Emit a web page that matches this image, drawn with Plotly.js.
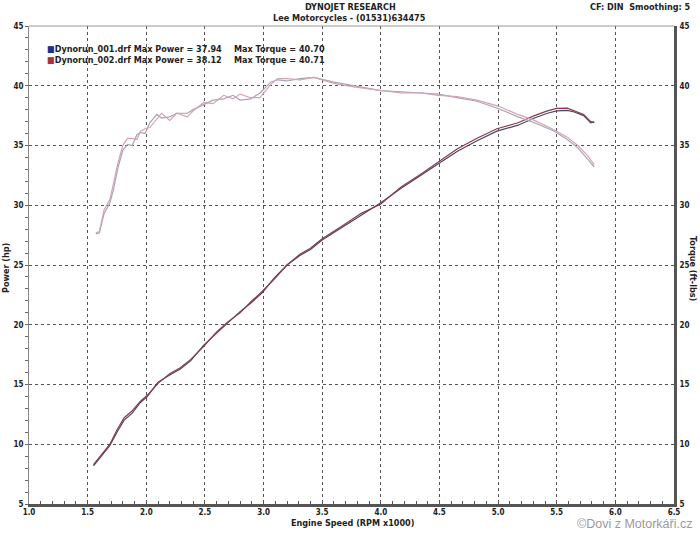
<!DOCTYPE html>
<html>
<head>
<meta charset="utf-8">
<script src="https://cdn.plot.ly/plotly-3.0.1.min.js"></script>
<style>html,body{margin:0;padding:0;background:#fff;}#chart{width:700px;height:537px;}</style>
</head>
<body>
<div id="chart"></div>
<script>
// ---- data ----
const runNames = ["Dynorun_001.drf", "Dynorun_002.drf"];
const maxPower = [37.94, 38.12];
const maxTorque = [40.70, 40.71];

const rpmTorque = [1.57,1.60,1.64,1.69,1.72,1.76,1.80,1.84,1.88,1.92,1.95,1.99,2.03,2.09,2.13,2.20,2.26,2.35,2.40,2.49,2.57,2.66,2.74,2.80,2.89,2.97,3.06,3.12,3.20,3.31,3.43,3.60,3.77,4.00,4.17,4.34,4.49,4.65,4.82,5.00,5.17,5.31,5.48,5.59,5.68,5.76,5.82];
const torque1 = [27.6,27.7,29.3,30.2,31.3,33.2,34.6,35.1,35.0,35.9,36.1,36.0,36.9,37.6,37.3,37.4,37.7,37.7,38.0,38.4,38.8,38.9,39.2,38.8,38.9,39.4,40.3,40.5,40.4,40.6,40.7,40.3,40.0,39.6,39.5,39.4,39.3,39.0,38.7,38.1,37.4,36.9,36.2,35.5,34.8,33.9,33.2];
const torque2 = [27.7,27.8,29.6,30.5,31.8,33.6,35.0,35.6,35.6,35.5,36.2,36.4,36.5,37.2,37.7,37.1,37.7,37.4,37.9,38.6,38.5,39.2,38.9,39.3,39.0,39.0,40.1,40.6,40.6,40.5,40.7,40.2,39.9,39.6,39.4,39.4,39.2,39.1,38.8,38.3,37.6,37.1,36.3,35.7,35.0,34.2,33.4];

const rpmPower = [1.55,1.61,1.69,1.75,1.81,1.88,1.95,2.01,2.10,2.20,2.29,2.38,2.49,2.60,2.69,2.80,2.89,2.99,3.09,3.20,3.31,3.40,3.50,3.66,3.83,4.00,4.17,4.34,4.50,4.65,4.82,4.99,5.17,5.31,5.42,5.50,5.59,5.65,5.73,5.79,5.82];
const power1 = [8.2,8.9,9.9,11.0,12.0,12.6,13.5,14.0,15.2,15.8,16.3,17.0,18.3,19.3,20.1,21.1,21.8,22.7,23.9,25.0,25.8,26.3,27.1,28.1,29.2,30.2,31.4,32.5,33.6,34.5,35.4,36.2,36.7,37.3,37.7,37.9,37.94,37.8,37.5,36.9,37.0];
const power2 = [8.3,9.0,10.0,11.2,12.2,12.8,13.6,14.1,15.1,15.9,16.4,17.1,18.2,19.4,20.2,21.0,21.9,22.8,23.8,25.0,25.9,26.4,27.2,28.2,29.3,30.1,31.5,32.6,33.7,34.7,35.6,36.4,36.9,37.5,37.9,38.1,38.12,37.9,37.6,37.0,36.9];

const xTicks = [1.0,1.5,2.0,2.5,3.0,3.5,4.0,4.5,5.0,5.5,6.0,6.5];
const yTicks = [5,10,15,20,25,30,35,40,45];

// ---- styling ----
const runColors = ["#1e2f8c", "#b0303a"];
const powerColors = ["#4b4660", "#8a3a4e"];
const torqueColors = ["#aaa2b6", "#d2a4b4"];
const F = "'DejaVu Sans Condensed', 'DejaVu Sans', sans-serif";

const traces = [
  {x: rpmTorque, y: torque1, yaxis: 'y2', mode: 'lines', line: {color: torqueColors[0], width: 1.2}, name: runNames[0] + ' torque'},
  {x: rpmTorque, y: torque2, yaxis: 'y2', mode: 'lines', line: {color: torqueColors[1], width: 1.2}, name: runNames[1] + ' torque'},
  {x: rpmPower, y: power1, mode: 'lines', line: {color: powerColors[0], width: 1.2}, name: runNames[0] + ' power'},
  {x: rpmPower, y: power2, mode: 'lines', line: {color: powerColors[1], width: 1.2}, name: runNames[1] + ' power'}
];

const tickFont = {family: F, size: 8, color: '#222', weight: 'bold'};
const boldFont = {family: F, size: 9, color: '#222', weight: 'bold'};

const W = 700, H = 537;
const m = {l: 29, r: 26, t: 26, b: 33};
const pw = W - m.l - m.r, ph = H - m.t - m.b;
const px = v => (v - m.l) / pw;
const py = v => 1 - (v - m.t) / ph;

const ann = [
  {text: 'DYNOJET RESEARCH', x: px(350), y: py(7), xanchor: 'center', yanchor: 'middle', font: boldFont},
  {text: 'Lee Motorcycles - (01531)634475', x: px(349), y: py(18), xanchor: 'center', yanchor: 'middle', font: boldFont},
  {text: 'CF: DIN  Smoothing: 5', x: px(693), y: py(7), xanchor: 'right', yanchor: 'middle', font: boldFont},
  {text: 'Engine Speed (RPM x1000)', x: px(352), y: py(523), xanchor: 'center', yanchor: 'middle', font: boldFont},
  {text: 'Power (hp)', x: px(6), y: py(268), xanchor: 'center', yanchor: 'middle', textangle: -90, font: boldFont},
  {text: 'Torque (ft-lbs)', x: px(693), y: py(268), xanchor: 'center', yanchor: 'middle', textangle: 90, font: boldFont},
  {text: '©Dovi z Motorkáři.cz', x: px(694), y: py(524), xanchor: 'right', yanchor: 'middle', font: {family: "'Liberation Sans', Arial, sans-serif", size: 12.5, color: '#9a9a9a'}}
];
runNames.forEach((n, i) => {
  ann.push({text: '<span style="color:' + runColors[i] + '">■</span>' + n + ' Max Power = ' + maxPower[i].toFixed(2),
    x: px(45), y: py(49 + i * 11), xanchor: 'left', yanchor: 'middle', font: boldFont});
  ann.push({text: 'Max Torque = ' + maxTorque[i].toFixed(2),
    x: px(232), y: py(49 + i * 11), xanchor: 'left', yanchor: 'middle', font: boldFont});
});
ann.forEach(a => { a.xref = 'paper'; a.yref = 'paper'; a.showarrow = false; });

const layout = {
  width: W, height: H,
  margin: m,
  paper_bgcolor: '#fff', plot_bgcolor: '#fff',
  showlegend: false,
  xaxis: {
    range: [1.0, 6.5], tickvals: xTicks, ticktext: xTicks.map(v => v.toFixed(1)),
    showgrid: true, gridcolor: '#555', griddash: 'dot', gridwidth: 1,
    zeroline: false, showline: true, linecolor: '#555', linewidth: 3,
    ticks: 'inside', ticklen: 4, tickcolor: '#555', tickwidth: 1,
    ticklabelstandoff: -2,
    minor: {dtick: 0.1, ticks: 'inside', ticklen: 3, tickcolor: '#555', showgrid: false},
    tickfont: tickFont, fixedrange: true
  },
  yaxis: {
    range: [5, 45], tickvals: yTicks, ticktext: yTicks.map(String),
    showgrid: true, gridcolor: '#555', griddash: 'dot', gridwidth: 1,
    zeroline: false, showline: true, linecolor: '#888', linewidth: 1,
    ticks: 'outside', ticklen: 2, tickcolor: '#666',
    ticklabelstandoff: 1,
    minor: {dtick: 1, ticks: 'outside', ticklen: 3, tickcolor: '#666', showgrid: false},
    tickfont: tickFont, fixedrange: true
  },
  yaxis2: {
    range: [5, 45], tickvals: yTicks, ticktext: yTicks.map(String),
    overlaying: 'y', side: 'right', showgrid: false,
    zeroline: false, showline: true, linecolor: '#555', linewidth: 3,
    ticks: '', ticklabelstandoff: 1, tickfont: tickFont, fixedrange: true
  },
  shapes: [
    {type: 'line', xref: 'paper', yref: 'paper', x0: 0, x1: 1, y0: 1, y1: 1, line: {color: '#999', width: 1}}
  ],
  annotations: ann
};

Plotly.newPlot('chart', traces, layout, {staticPlot: true, displayModeBar: false});
</script>
</body>
</html>
